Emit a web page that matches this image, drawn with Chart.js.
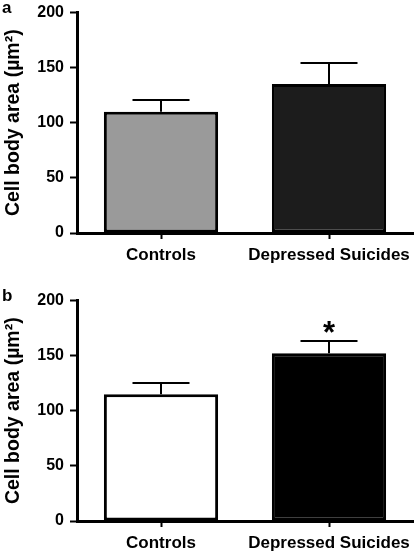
<!DOCTYPE html>
<html><head><meta charset="utf-8">
<script src="https://cdn.jsdelivr.net/npm/chart.js@4.4.0/dist/chart.umd.min.js"></script>
<style>
html,body{margin:0;padding:0;background:#fff;}
#wrap{position:relative;width:417px;height:555px;overflow:hidden;background:#fff;}
.pane{position:absolute;left:0;width:417px;}
</style></head><body>
<div id="wrap">
<div class="pane" style="top:0;height:277px"><canvas id="ca" width="417" height="277"></canvas></div>
<div class="pane" style="top:288px;height:267px"><canvas id="cb" width="417" height="267"></canvas></div>
</div>
<script>
// ---- data ----
const categories = ['Controls', 'Depressed Suicides'];
const yTicks = [0, 50, 100, 150, 200];
const meanA = [110, 135];
const semA = [10.5, 19.5];
const meanB = [115, 152];
const semB = [10, 11];
const starsA = ['', ''];
const starsB = ['', '*'];
const yTitle = 'Cell body area (µm²)';
const colorsA = ['#9a9a9a', '#1c1c1c'];
const colorsB = ['#ffffff', '#000000'];

const FONT = "'Liberation Sans', Arial, Helvetica, sans-serif";

function makeChart(canvasId, label, means, sems, stars, colors, xHeight) {
  const extras = {
    id: 'extras_' + canvasId,
    afterDatasetsDraw(chart) {
      const ctx = chart.ctx;
      const meta = chart.getDatasetMeta(0);
      const ys = chart.scales.y;
      ctx.save();
      ctx.strokeStyle = '#000';
      ctx.lineWidth = 2;
      meta.data.forEach((bar, i) => {
        const x = Math.round(bar.x);
        const yBar = ys.getPixelForValue(means[i]);
        const yTop = Math.round(ys.getPixelForValue(means[i] + sems[i]));
        ctx.beginPath();
        ctx.moveTo(x, yBar);
        ctx.lineTo(x, yTop);
        ctx.moveTo(x - 28.5, yTop);
        ctx.lineTo(x + 28.5, yTop);
        ctx.stroke();
        if (stars[i]) {
          ctx.fillStyle = '#000';
          ctx.font = 'bold 31px ' + FONT;
          ctx.textAlign = 'center';
          ctx.textBaseline = 'alphabetic';
          ctx.fillText(stars[i], x, yTop + 2);
        }
      });
      ctx.restore();
    },
    afterDraw(chart) {
      const ctx = chart.ctx;
      ctx.save();
      ctx.fillStyle = '#000';
      ctx.font = 'bold 17px ' + FONT;
      ctx.textAlign = 'left';
      ctx.textBaseline = 'alphabetic';
      ctx.fillText(label, 2, 13);
      ctx.restore();
    }
  };

  return new Chart(document.getElementById(canvasId), {
    type: 'bar',
    data: {
      labels: categories,
      datasets: [{
        data: means,
        backgroundColor: colors,
        borderColor: '#000',
        borderWidth: 3,
        borderSkipped: false,
        barPercentage: 0.68,
        categoryPercentage: 1.0
      }]
    },
    options: {
      responsive: false,
      animation: false,
      devicePixelRatio: 1,
      layout: { padding: { top: 7, left: 0, right: 4, bottom: 0 } },
      plugins: { legend: { display: false }, tooltip: { enabled: false } },
      scales: {
        x: {
          offset: true,
          border: { display: true, color: '#000', width: 3 },
          grid: { offset: false, drawOnChartArea: false, drawTicks: true, tickLength: 6, tickWidth: 2, tickColor: '#000' },
          ticks: { color: '#000', font: { family: FONT, size: 17, weight: 'bold' }, padding: 6, maxRotation: 0, autoSkip: false },
          afterFit: s => { s.height = xHeight; }
        },
        y: {
          min: 0, max: 200,
          afterBuildTicks: s => { s.ticks = yTicks.map(v => ({ value: v })); },
          border: { display: true, color: '#000', width: 3 },
          grid: { drawOnChartArea: false, drawTicks: true, tickLength: 7, tickWidth: 2, tickColor: '#000' },
          ticks: { color: '#000', font: { family: FONT, size: 16, weight: 'bold', lineHeight: 0.8 }, padding: 6 },
          title: { display: true, text: yTitle, color: '#000', font: { family: FONT, size: 19.5, weight: 'bold' }, padding: { top: 1.5, bottom: 0 } },
          afterFit: s => { s.width = 77; }
        }
      }
    },
    plugins: [extras]
  });
}

makeChart('ca', 'a', meanA, semA, starsA, colorsA, 44);
makeChart('cb', 'b', meanB, semB, starsB, colorsB, 34);
</script>
</body></html>
